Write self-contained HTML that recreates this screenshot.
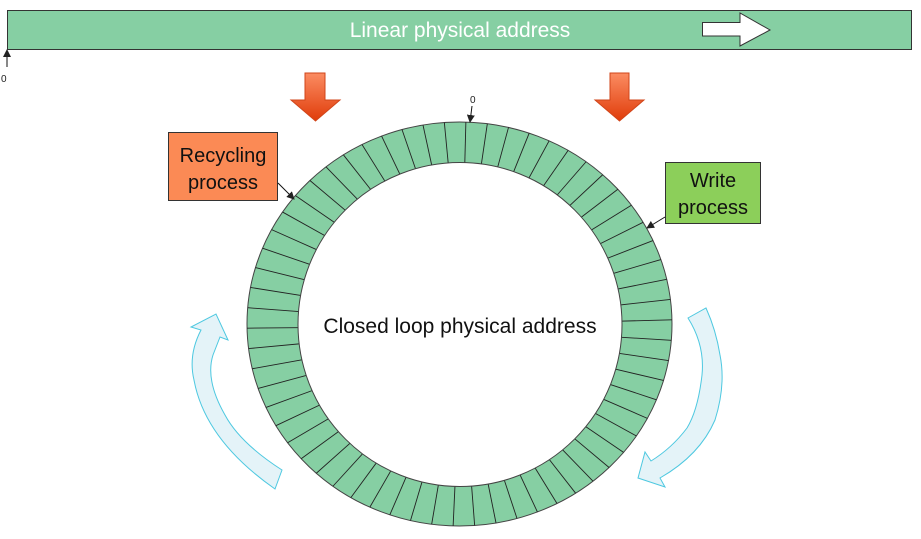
<!DOCTYPE html>
<html><head><meta charset="utf-8"><style>
html,body{margin:0;padding:0;background:#fff;width:921px;height:539px;overflow:hidden}
svg{display:block}
text{font-family:"Liberation Sans",sans-serif}
</style></head><body>
<svg id="s" width="921" height="539" viewBox="0 0 921 539" xmlns="http://www.w3.org/2000/svg">
<defs>
<linearGradient id="og" x1="0" y1="0" x2="0" y2="1"><stop offset="0" stop-color="#fb8c62"/><stop offset="1" stop-color="#e03c0a"/></linearGradient>
<marker id="ah" markerWidth="8" markerHeight="8" refX="7" refY="4" orient="auto" markerUnits="userSpaceOnUse"><path d="M0,0 L8,4 L0,8 z" fill="#222"/></marker>
</defs>
<rect x="7.5" y="10.5" width="904" height="39" fill="#86cfa3" stroke="#333" stroke-width="1"/>
<text x="460" y="37" font-size="21" fill="#fff" text-anchor="middle">Linear physical address</text>
<path d="M702.5,22.5 H740 V13 L770,30 L740,46 V36 H702.5 Z" fill="#fff" stroke="#333" stroke-width="1"/>
<line x1="7" y1="67" x2="7" y2="50" stroke="#111" stroke-width="1" marker-end="url(#ah)"/>
<text x="1" y="82" font-size="10" fill="#222">0</text>
<path d="M305,73 H325 V100 H340 L315.5,121 L291,100 H305 Z" fill="url(#og)" stroke="#d0451a" stroke-width="1"/>
<path d="M610,73 H629 V100 H644 L619.5,121 L595,100 H610 Z" fill="url(#og)" stroke="#d0451a" stroke-width="1"/>
<ellipse cx="459.5" cy="324" rx="212.5" ry="202" fill="#86cfa3" stroke="#444" stroke-width="1"/>
<g id="rad" stroke="#222" stroke-width="0.9"></g>
<circle cx="460" cy="324.5" r="162" fill="#fff" stroke="#444" stroke-width="1"/>
<text x="460" y="333" font-size="21" fill="#111" text-anchor="middle">Closed loop physical address</text>
<text x="470" y="103" font-size="10" fill="#222">0</text>
<line x1="472" y1="106" x2="470" y2="122" stroke="#111" stroke-width="1" marker-end="url(#ah)"/>
<rect x="168.5" y="132.5" width="109" height="68" fill="#fb8a55" stroke="#333"/>
<text x="223" y="162" font-size="20" fill="#111" text-anchor="middle">Recycling</text>
<text x="223" y="189" font-size="20" fill="#111" text-anchor="middle">process</text>
<line x1="278" y1="183" x2="294" y2="199" stroke="#111" stroke-width="1" marker-end="url(#ah)"/>
<rect x="665.5" y="162.5" width="95" height="61" fill="#8ccf5a" stroke="#333"/>
<text x="713" y="187" font-size="20" fill="#111" text-anchor="middle">Write</text>
<text x="713" y="214" font-size="20" fill="#111" text-anchor="middle">process</text>
<line x1="665" y1="217" x2="647" y2="228" stroke="#111" stroke-width="1" marker-end="url(#ah)"/>
<!-- left curved arrow -->
<path d="M282,470 Q240,443 225,415 Q205,380 213,355 L220,337 L228,340 L216,314 L191,327 L201,330 Q188,355 194,380 Q205,440 275,489 Z" fill="#e4f3f8" stroke="#4dc8e0" stroke-width="1"/>
<!-- right curved arrow -->
<path d="M688,318 Q705,345 702,375 Q698,410 687,428 Q672,448 651,461 L645,452 L638,478 L665,487 L660,478 Q700,455 715,420 Q726,385 720,355 Q716,330 706,308 Z" fill="#e4f3f8" stroke="#4dc8e0" stroke-width="1"/>
</svg>
<script>
var g=document.getElementById('rad'),N=62,s='';
for(var i=0;i<N;i++){var a=2*Math.PI*i/N-Math.PI/2+0.03;var c=Math.cos(a),sn=Math.sin(a);
s+='<line x1="'+(460+150*c)+'" y1="'+(324.5+150*sn)+'" x2="'+(459.5+212.5*c)+'" y2="'+(324+202*sn)+'"/>';}
g.innerHTML=s;
</script>
</body></html>
